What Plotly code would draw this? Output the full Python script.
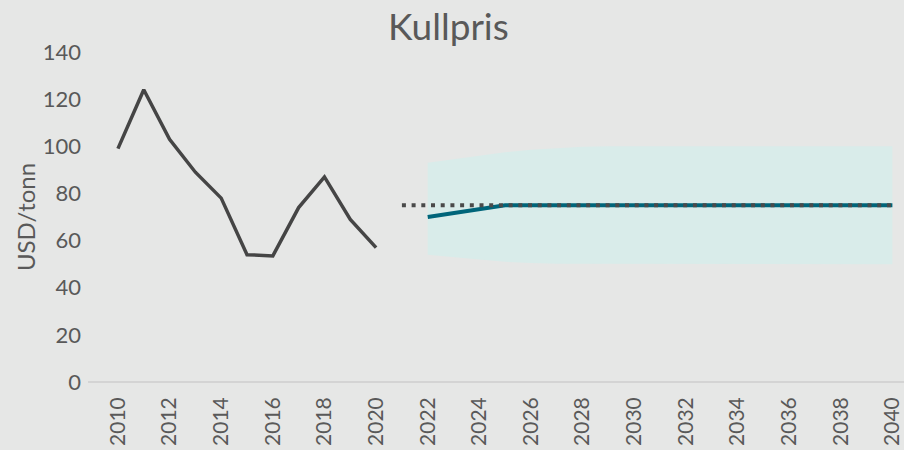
import plotly.graph_objects as go

hist_years = list(range(2010, 2021))
hist_values = [99, 124, 103, 89, 78, 54, 53.5, 74, 87, 69, 57]

ref_years = [2021, 2040]
ref_values = [75, 75]

fc_years = [2022, 2025, 2040]
fc_values = [70, 75, 75]

band_years = [2022, 2023, 2024, 2025, 2026, 2027, 2028, 2029, 2030, 2035, 2040]
band_high = [93, 94.5, 96, 97.5, 98.5, 99.3, 99.8, 100, 100, 100, 100]
band_low = [54, 53, 52, 51, 50.5, 50.2, 50, 50, 50, 50, 50]

tick_years = list(range(2010, 2041, 2))
tick_labels = [str(y) for y in tick_years]
y_ticks = list(range(0, 141, 20))

font_family = "Lato, 'Open Sans', sans-serif"
text_color = "#595959"

fig = go.Figure()

fig.add_trace(go.Scatter(
    x=band_years + band_years[::-1],
    y=band_high + band_low[::-1],
    fill="toself", fillcolor="#d9ecea", line=dict(width=0),
    mode="lines", hoverinfo="skip", showlegend=False,
))
fig.add_trace(go.Scatter(
    x=hist_years, y=hist_values, mode="lines",
    line=dict(color="#454545", width=3.5), showlegend=False,
))
fig.add_trace(go.Scatter(
    x=fc_years, y=fc_values, mode="lines",
    line=dict(color="#00657a", width=4), showlegend=False,
))
fig.add_trace(go.Scatter(
    x=ref_years, y=ref_values, mode="lines",
    line=dict(color="#4a4a4a", width=4, dash="4px,5.7px"), showlegend=False,
))

fig.update_layout(
    width=904, height=450,
    paper_bgcolor="#e6e7e6", plot_bgcolor="#e6e7e6",
    margin=dict(l=88, r=0, t=52, b=68),
    font=dict(family=font_family, color=text_color, size=22),
    title=dict(text="Kullpris", x=0.496, xanchor="center", y=0.94, yanchor="middle",
               xref="container", yref="container",
               font=dict(size=37, color=text_color, family=font_family)),
    xaxis=dict(range=[2008.84, 2040.45], tickmode="array", tickvals=tick_years,
               ticktext=tick_labels, tickangle=-90, showgrid=False, zeroline=False,
               showline=False, ticks="", ticklabelstandoff=10,
               tickfont=dict(size=21, color=text_color)),
    yaxis=dict(range=[0, 140], tickvals=y_ticks, showgrid=False, zeroline=True,
               zerolinecolor="#d4d4d4", zerolinewidth=1.5, ticks="",
               ticklabelstandoff=6,
               tickfont=dict(size=22, color=text_color),
               title=dict(text="USD/tonn", standoff=0, font=dict(size=24, color=text_color))),
)

fig.write_html("out.html", config={"displayModeBar": False},
               post_script="document.body.style.margin='0';document.body.style.overflow='hidden';")
